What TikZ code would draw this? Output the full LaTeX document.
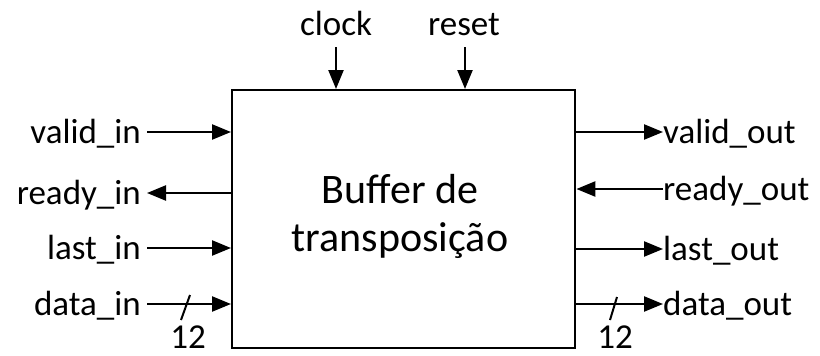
\documentclass[tikz,border=0pt]{standalone}
\usepackage{fontspec}
\setmainfont{Carlito}
\usetikzlibrary{arrows.meta}

\begin{document}
\begin{tikzpicture}[x=1pt,y=-1pt,
  wire/.style={line width=2.4pt},
  sig/.style={wire,-{Triangle[length=19pt,width=15pt]}},
  lbl/.style={inner sep=0pt,font=\fontsize{35}{40}\selectfont},
  ttl/.style={inner sep=0pt,font=\fontsize{42}{48}\selectfont},
  bus/.style={line width=2pt}]
\useasboundingbox (0,0) rectangle (820,356);

% main block
\node[wire,draw,minimum width=343pt,minimum height=258pt,inner sep=0pt,anchor=north west] (box) at (231,89) {};
\node[ttl,anchor=base] (t1) at (400,203) {Buffer de};
\node[ttl,anchor=base] (t2) at (400,251) {transposição};

% clock and reset from the top
\node[lbl,anchor=base] (clk) at (336,35) {clock};
\node[lbl,anchor=base] (rst) at (464,35) {reset};
\coordinate (clkP) at (box.north -| 336,0);
\coordinate (rstP) at (box.north -| 465,0);
\draw[sig] (clkP |- 0,47) -- (clkP);
\draw[sig] (rstP |- 0,47) -- (rstP);

% input side
\node[lbl,anchor=base east] (vin) at (141,143) {valid\_in};
\node[lbl,anchor=base east] (rin) at (141,204) {ready\_in};
\node[lbl,anchor=base east] (lin) at (141,259) {last\_in};
\node[lbl,anchor=base east] (din) at (141,315) {data\_in};
\coordinate (vinP) at (box.west |- 0,132);
\coordinate (rinP) at (box.west |- 0,193);
\coordinate (linP) at (box.west |- 0,248);
\coordinate (dinP) at (box.west |- 0,304);
\draw[sig] ([xshift=6pt]vin.east |- vinP) -- (vinP);
\draw[sig] (rinP) -- ([xshift=6pt]rin.east |- rinP);
\draw[sig] ([xshift=6pt]lin.east |- linP) -- (linP);
\draw[sig] ([xshift=6pt]din.east |- dinP) -- (dinP);
\draw[bus] (181,320) -- (190,295);
\node[lbl,anchor=base] (win) at (188,348) {12};

% output side
\node[lbl,anchor=base west] (vout) at (663,143) {valid\_out};
\node[lbl,anchor=base west] (rout) at (663,200) {ready\_out};
\node[lbl,anchor=base west] (lout) at (663,260) {last\_out};
\node[lbl,anchor=base west] (dout) at (663,315) {data\_out};
\coordinate (voutP) at (box.east |- 0,132);
\coordinate (routP) at (box.east |- 0,189);
\coordinate (loutP) at (box.east |- 0,249);
\coordinate (doutP) at (box.east |- 0,304);
\draw[sig] (voutP) -- (vout.west |- voutP);
\draw[sig] (rout.west |- routP) -- (routP);
\draw[sig] (loutP) -- (lout.west |- loutP);
\draw[sig] (doutP) -- (dout.west |- doutP);
\draw[bus] (610,320) -- (617,297);
\node[lbl,anchor=base] (wout) at (615,348) {12};
\end{tikzpicture}
\end{document}
